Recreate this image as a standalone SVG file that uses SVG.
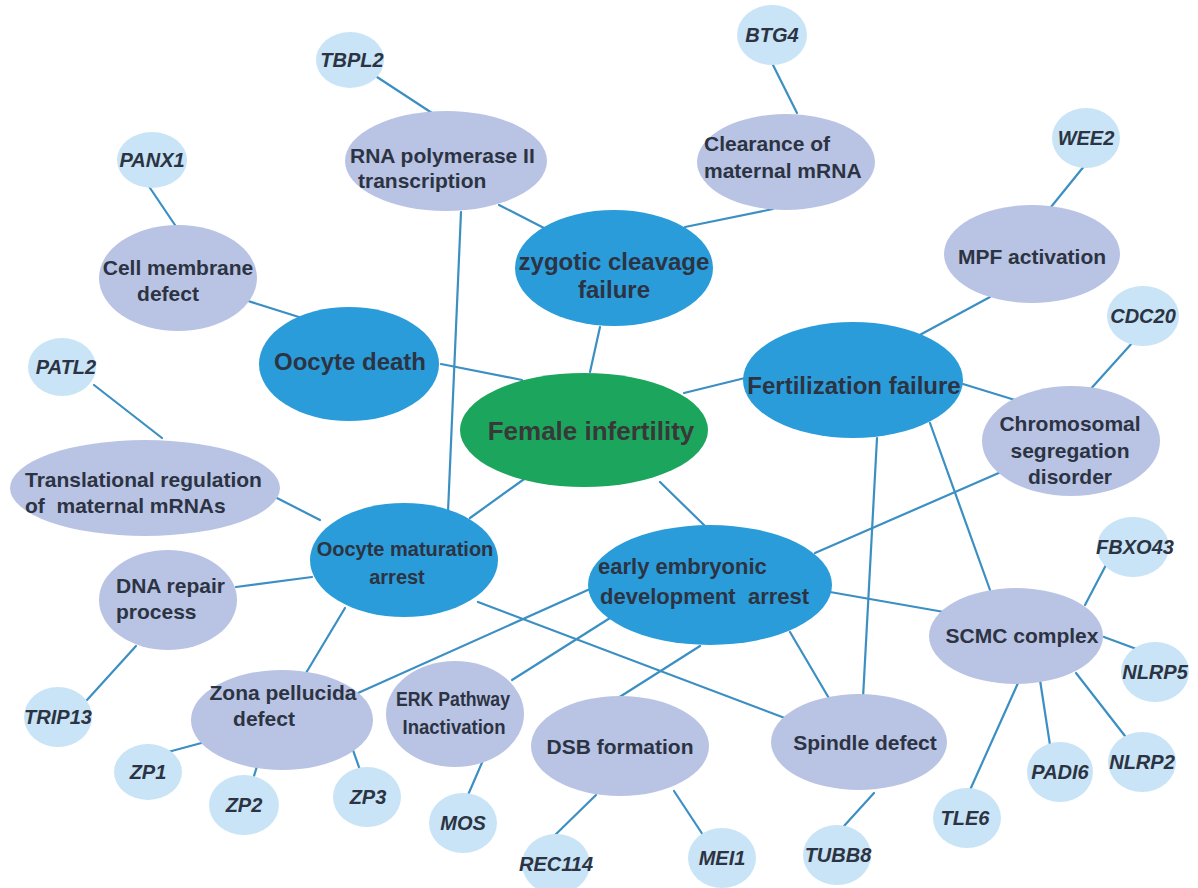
<svg xmlns="http://www.w3.org/2000/svg" width="1198" height="888" viewBox="0 0 1198 888">
<style>
.bg{fill:#ffffff}
.c line{stroke:#3b8fc3;stroke-width:2.2;stroke-linecap:round}
.main ellipse{fill:#2a9cda}
.root ellipse{fill:#1ca65d}
.proc ellipse{fill:#b9c3e4}
.gene ellipse{fill:#c8e4f6}
text{font-family:"Liberation Sans",Arial,sans-serif;font-weight:bold;fill:#2c3342}
.main text{font-size:24px}
.root text{font-size:26px;fill:#383838}
.proc text{font-size:21px}
.gene text{font-size:20px;font-style:italic;text-anchor:middle}
.m{text-anchor:middle}
</style>
<rect class="bg" x="0" y="0" width="1198" height="888"/>
<g id="connectors" class="c">
<line x1="377" y1="77" x2="432" y2="113"/>
<line x1="773" y1="65" x2="797" y2="113"/>
<line x1="148" y1="185" x2="177" y2="228"/>
<line x1="1085" y1="165" x2="1051" y2="207"/>
<line x1="1133" y1="342" x2="1088" y2="392"/>
<line x1="94" y1="385" x2="162" y2="438"/>
<line x1="499" y1="205" x2="544" y2="228"/>
<line x1="773" y1="209" x2="685" y2="227"/>
<line x1="461" y1="212" x2="448" y2="512"/>
<line x1="245" y1="300" x2="302" y2="318"/>
<line x1="441" y1="364" x2="522" y2="380"/>
<line x1="600" y1="327" x2="590" y2="372"/>
<line x1="745" y1="378" x2="684" y2="393"/>
<line x1="990" y1="297" x2="916" y2="337"/>
<line x1="963" y1="384" x2="1015" y2="400"/>
<line x1="877" y1="438" x2="863" y2="698"/>
<line x1="930" y1="423" x2="990" y2="590"/>
<line x1="660" y1="482" x2="705" y2="526"/>
<line x1="527" y1="477" x2="470" y2="518"/>
<line x1="275" y1="497" x2="320" y2="520"/>
<line x1="236" y1="587" x2="312" y2="577"/>
<line x1="136" y1="646" x2="87" y2="700"/>
<line x1="345" y1="608" x2="300" y2="683"/>
<line x1="478" y1="602" x2="790" y2="720"/>
<line x1="590" y1="589" x2="358" y2="693"/>
<line x1="610" y1="618" x2="512" y2="680"/>
<line x1="700" y1="646" x2="618" y2="698"/>
<line x1="790" y1="632" x2="830" y2="700"/>
<line x1="830" y1="592" x2="944" y2="612"/>
<line x1="815" y1="553" x2="1001" y2="472"/>
<line x1="220" y1="738" x2="168" y2="752"/>
<line x1="262" y1="750" x2="254" y2="776"/>
<line x1="347" y1="733" x2="360" y2="770"/>
<line x1="484" y1="758" x2="468" y2="795"/>
<line x1="596" y1="795" x2="552" y2="838"/>
<line x1="674" y1="791" x2="703" y2="835"/>
<line x1="874" y1="793" x2="844" y2="826"/>
<line x1="1085" y1="605" x2="1106" y2="565"/>
<line x1="1104" y1="637" x2="1150" y2="654"/>
<line x1="1076" y1="673" x2="1125" y2="736"/>
<line x1="1040" y1="680" x2="1050" y2="745"/>
<line x1="1018" y1="683" x2="970" y2="790"/>
</g>
<g id="female-infertility" class="root"><ellipse cx="584" cy="430" rx="124" ry="57"/><text x="591" y="440" class="m">Female infertility</text></g>
<g id="oocyte-death" class="main"><ellipse cx="349" cy="364" rx="90" ry="57"/><text x="350" y="370" class="m">Oocyte death</text></g>
<g id="zygotic-cleavage-failure" class="main"><ellipse cx="614" cy="268" rx="99" ry="58"/><text x="614" y="270" class="m">zygotic cleavage</text><text x="614" y="298" class="m">failure</text></g>
<g id="fertilization-failure" class="main"><ellipse cx="853" cy="380" rx="110" ry="58"/><text x="854" y="394" class="m">Fertilization failure</text></g>
<g id="oocyte-maturation-arrest" class="main"><ellipse cx="404" cy="560" rx="94" ry="57"/><text x="405" y="556" class="m" style="font-size:20px">Oocyte maturation</text><text x="397" y="584" class="m" style="font-size:20px">arrest</text></g>
<g id="early-embryonic-development-arrest" class="main"><ellipse cx="710" cy="585" rx="122" ry="60"/><text x="598" y="574" style="font-size:22px">early embryonic</text><text x="600" y="604" style="font-size:22px" xml:space="preserve">development  arrest</text></g>
<g id="rna-polymerase" class="proc"><ellipse cx="446" cy="161" rx="101" ry="50"/><text x="350" y="163">RNA polymerase II</text><text x="358" y="188">transcription</text></g>
<g id="clearance" class="proc"><ellipse cx="786" cy="162" rx="89" ry="48"/><text x="704" y="151">Clearance of</text><text x="704" y="178">maternal mRNA</text></g>
<g id="cell-membrane" class="proc"><ellipse cx="178" cy="278" rx="79" ry="53"/><text x="178" y="275" class="m">Cell membrane</text><text x="168" y="301" class="m">defect</text></g>
<g id="mpf" class="proc"><ellipse cx="1032" cy="254" rx="88" ry="49"/><text x="1032" y="264" class="m">MPF activation</text></g>
<g id="chromosomal" class="proc"><ellipse cx="1071" cy="441" rx="89" ry="55"/><text x="1070" y="431" class="m">Chromosomal</text><text x="1070" y="458" class="m">segregation</text><text x="1070" y="484" class="m">disorder</text></g>
<g id="translational" class="proc"><ellipse cx="145" cy="488" rx="135" ry="48"/><text x="25" y="487">Translational regulation</text><text x="25" y="513" xml:space="preserve">of  maternal mRNAs</text></g>
<g id="dna-repair" class="proc"><ellipse cx="168" cy="600" rx="69" ry="50"/><text x="116" y="593">DNA repair</text><text x="116" y="619">process</text></g>
<g id="zona" class="proc"><ellipse cx="282" cy="720" rx="91" ry="50"/><text x="283" y="700" class="m">Zona pellucida</text><text x="264" y="726" class="m">defect</text></g>
<g id="erk" class="proc"><ellipse cx="455" cy="714" rx="69" ry="53"/><text x="453" y="706" class="m" textLength="114" lengthAdjust="spacingAndGlyphs">ERK Pathway</text><text x="454" y="734" class="m" textLength="103" lengthAdjust="spacingAndGlyphs">Inactivation</text></g>
<g id="dsb" class="proc"><ellipse cx="620" cy="746" rx="89" ry="50"/><text x="620" y="754" class="m">DSB formation</text></g>
<g id="spindle" class="proc"><ellipse cx="859" cy="742" rx="88" ry="48"/><text x="865" y="750" class="m">Spindle defect</text></g>
<g id="scmc" class="proc"><ellipse cx="1016" cy="636" rx="87" ry="48"/><text x="1022" y="643" class="m">SCMC complex</text></g>
<g id="tbpl2" class="gene"><ellipse cx="350" cy="60" rx="34" ry="28"/><text x="352" y="67">TBPL2</text></g>
<g id="btg4" class="gene"><ellipse cx="772" cy="35" rx="35" ry="30"/><text x="772" y="42">BTG4</text></g>
<g id="panx1" class="gene"><ellipse cx="152" cy="160" rx="35" ry="28"/><text x="152" y="167">PANX1</text></g>
<g id="wee2" class="gene"><ellipse cx="1086" cy="138" rx="34" ry="30"/><text x="1086" y="145">WEE2</text></g>
<g id="cdc20" class="gene"><ellipse cx="1143" cy="316" rx="36" ry="30"/><text x="1143" y="323">CDC20</text></g>
<g id="patl2" class="gene"><ellipse cx="62" cy="367" rx="34" ry="29"/><text x="66" y="374">PATL2</text></g>
<g id="fbxo43" class="gene"><ellipse cx="1133" cy="547" rx="36" ry="30"/><text x="1135" y="554">FBXO43</text></g>
<g id="nlrp5" class="gene"><ellipse cx="1155" cy="672" rx="34" ry="30"/><text x="1155" y="679">NLRP5</text></g>
<g id="nlrp2" class="gene"><ellipse cx="1142" cy="762" rx="34" ry="30"/><text x="1142" y="769">NLRP2</text></g>
<g id="padi6" class="gene"><ellipse cx="1060" cy="772" rx="33" ry="30"/><text x="1060" y="779">PADI6</text></g>
<g id="tle6" class="gene"><ellipse cx="967" cy="818" rx="34" ry="30"/><text x="965" y="825">TLE6</text></g>
<g id="tubb8" class="gene"><ellipse cx="837" cy="855" rx="34" ry="30"/><text x="838" y="862">TUBB8</text></g>
<g id="mei1" class="gene"><ellipse cx="722" cy="858" rx="34" ry="30"/><text x="722" y="865">MEI1</text></g>
<g id="rec114" class="gene"><ellipse cx="556" cy="864" rx="34" ry="30"/><text x="556" y="871">REC114</text></g>
<g id="mos" class="gene"><ellipse cx="463" cy="823" rx="34" ry="30"/><text x="463" y="830">MOS</text></g>
<g id="zp3" class="gene"><ellipse cx="367" cy="797" rx="34" ry="30"/><text x="368" y="804">ZP3</text></g>
<g id="zp2" class="gene"><ellipse cx="244" cy="805" rx="35" ry="30"/><text x="244" y="812">ZP2</text></g>
<g id="zp1" class="gene"><ellipse cx="148" cy="772" rx="34" ry="28"/><text x="148" y="779">ZP1</text></g>
<g id="trip13" class="gene"><ellipse cx="58" cy="717" rx="34" ry="30"/><text x="58" y="724">TRIP13</text></g>
</svg>
